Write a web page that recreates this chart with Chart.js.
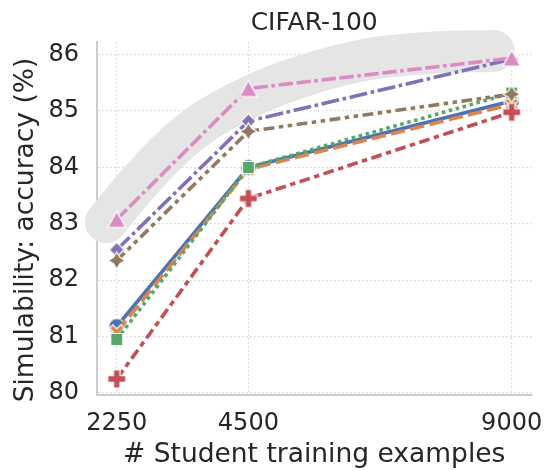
<!DOCTYPE html>
<html>
<head>
<meta charset="utf-8">
<script src="https://cdn.jsdelivr.net/npm/chart.js@4/dist/chart.umd.min.js"></script>
<style>
  body { margin: 0; background: #fff; }
  #wrap { width: 544px; height: 471px; }
</style>
</head>
<body>
<div id="wrap"><canvas id="myChart" width="544" height="471"></canvas></div>
<script>
'use strict';

// student set sizes
let sizes = [2250, 4500, 9000];
let xTicks = [2250, 4500, 9000];
let yTicks = [80, 81, 82, 83, 84, 85, 86];

let seriesNames = ['m1', 'm2', 'm3', 'm4', 'm5', 'm6', 'm7'];
let blueVals = [81.18, 84.0, 85.18];
let orangeVals = [81.08, 83.97, 85.12];
let greenVals = [80.95, 84.0, 85.32];
let redVals = [80.25, 83.45, 84.98];
let purpleVals = [82.54, 84.82, 85.92];
let brownVals = [82.35, 84.64, 85.3];
let pinkVals = [83.08, 85.4, 85.94];

// grey band drawn behind the top curves
let bandX = [2066, 2594, 3156, 3718, 4518, 5370, 6562, 7703, 8690];
let bandY = [83.03, 83.69, 84.31, 84.79, 85.25, 85.6, 85.92, 86.04, 86.065];

let xMin = 1912.5, xMax = 9337.5;
let yMin = 79.965, yMax = 86.225;

const FONT = 'DejaVu Sans';
const TXT = '#262626';
const LW = 3.6;

// build a little canvas for each marker shape
function makeMarker(shape, color, s) {
    let c = document.createElement('canvas');
    c.width = s + 4;
    c.height = s + 4;
    let g = c.getContext('2d');
    let m = (s + 4) / 2;
    let r = s / 2;
    g.translate(m, m);
    g.beginPath();
    if (shape === 'circle') {
        g.arc(0, 0, r, 0, Math.PI * 2);
    } else if (shape === 'square') {
        g.rect(-r * 0.8, -r * 0.8, r * 1.6, r * 1.6);
    } else if (shape === 'diamond') {
        g.moveTo(0, -r); g.lineTo(r, 0); g.lineTo(0, r); g.lineTo(-r, 0);
    } else if (shape === 'star') {
        let k = r * 0.38;
        g.moveTo(0, -r); g.lineTo(k, -k); g.lineTo(r, 0); g.lineTo(k, k);
        g.lineTo(0, r); g.lineTo(-k, k); g.lineTo(-r, 0); g.lineTo(-k, -k);
    } else if (shape === 'triangle') {
        let h = r * 0.9;
        g.moveTo(0, -h); g.lineTo(r, h); g.lineTo(-r, h);
    } else if (shape === 'plus') {
        let t = r * 0.36;
        g.moveTo(-t, -r); g.lineTo(t, -r); g.lineTo(t, -t); g.lineTo(r, -t);
        g.lineTo(r, t); g.lineTo(t, t); g.lineTo(t, r); g.lineTo(-t, r);
        g.lineTo(-t, t); g.lineTo(-r, t); g.lineTo(-r, -t); g.lineTo(-t, -t);
    } else if (shape === 'x') {
        g.rotate(Math.PI / 4);
        let t = r * 0.3;
        g.moveTo(-t, -r); g.lineTo(t, -r); g.lineTo(t, -t); g.lineTo(r, -t);
        g.lineTo(r, t); g.lineTo(t, t); g.lineTo(t, r); g.lineTo(-t, r);
        g.lineTo(-t, t); g.lineTo(-r, t); g.lineTo(-r, -t); g.lineTo(-t, -t);
    }
    g.closePath();
    g.fillStyle = color;
    g.fill();
    g.lineWidth = 1.2;
    g.strokeStyle = '#ffffff';
    g.stroke();
    return c;
}

let styles = [
    { data: blueVals, color: '#4c72b0', dash: [], marker: 'circle', size: 16 },
    { data: orangeVals, color: '#dd8452', dash: [4, 1.5], marker: 'x', size: 16 },
    { data: greenVals, color: '#55a868', dash: [1, 1], marker: 'square', size: 15 },
    { data: redVals, color: '#c44e52', dash: [3, 1.25, 1.5, 1.25], marker: 'plus', size: 18 },
    { data: purpleVals, color: '#8172b3', dash: [5, 1, 1, 1], marker: 'diamond', size: 15 },
    { data: brownVals, color: '#937860', dash: [3, 1.25, 1.25, 1.25, 1.25, 1.25], marker: 'star', size: 17 },
    { data: pinkVals, color: '#da8bc3', dash: [4, 1, 4, 1, 1, 1], marker: 'triangle', size: 18 }
];

let datasets = [];
for (let i = 0; i < styles.length; i++) {
    let st = styles[i];
    datasets.push({
        label: seriesNames[i],
        data: sizes.map((x, j) => ({ x: x, y: st.data[j] })),
        borderColor: st.color,
        backgroundColor: st.color,
        borderWidth: LW,
        borderDash: st.dash.map(d => d * LW),
        borderCapStyle: 'butt',
        tension: 0,
        pointStyle: makeMarker(st.marker, st.color, st.size),
        pointRadius: st.size / 2,
        order: styles.length - i,
        clip: false
    });
}

datasets.push({
    label: 'band',
    data: bandX.map((x, j) => ({ x: x, y: bandY[j] })),
    borderColor: '#e5e5e5',
    borderWidth: 42,
    borderCapStyle: 'round',
    borderJoinStyle: 'round',
    cubicInterpolationMode: 'monotone',
    pointRadius: 0,
    order: 100,
    clip: false
});

// rotated y label, sits a bit lower than the axis middle
let yLabelPlugin = {
    id: 'yLabel',
    afterDraw(chart) {
        let c = chart.ctx;
        c.save();
        c.translate(26, 230);
        c.rotate(-Math.PI / 2);
        c.font = '26.5px "' + FONT + '"';
        c.fillStyle = TXT;
        c.textAlign = 'center';
        c.textBaseline = 'middle';
        c.fillText('Simulability: accuracy (%)', 0, 0);
        c.restore();
    }
};

let gridOpts = { color: '#d4d4d4', lineWidth: 1.2, drawTicks: false };
let borderOpts = { display: true, color: '#cccccc', width: 2, dash: [1.5, 2.5] };

let ctx = document.getElementById('myChart').getContext('2d');
let chart = new Chart(ctx, {
    type: 'line',
    data: { datasets: datasets },
    plugins: [yLabelPlugin],
    options: {
        responsive: false,
        animation: false,
        devicePixelRatio: 1,
        layout: { padding: { left: 0, right: 11, top: 0, bottom: 0 } },
        plugins: {
            legend: { display: false },
            tooltip: { enabled: false },
            title: {
                display: true,
                text: 'CIFAR-100',
                color: TXT,
                fullSize: false,
                font: { family: FONT, size: 25, weight: 'normal' },
                padding: { top: 8.4, bottom: 3.6 }
            }
        },
        scales: {
            x: {
                type: 'linear',
                min: xMin,
                max: xMax,
                grid: gridOpts,
                border: borderOpts,
                afterBuildTicks: (s) => { s.ticks = xTicks.map(v => ({ value: v })); },
                afterFit: (s) => { s.height = 76; s.paddingLeft = 0; s.paddingRight = 0; },
                ticks: {
                    color: TXT,
                    padding: 14,
                    font: { family: FONT, size: 24 },
                    callback: (v) => String(v)
                },
                title: {
                    display: true,
                    text: '# Student training examples',
                    color: TXT,
                    font: { family: FONT, size: 26.5 },
                    padding: { top: 0, bottom: 0 }
                }
            },
            y: {
                type: 'linear',
                min: yMin,
                max: yMax,
                grid: gridOpts,
                border: borderOpts,
                afterBuildTicks: (s) => { s.ticks = yTicks.map(v => ({ value: v })); },
                afterFit: (s) => { s.width = 97; s.paddingTop = 0; s.paddingBottom = 0; },
                ticks: {
                    color: TXT,
                    padding: 18,
                    font: { family: FONT, size: 24 },
                    callback: (v) => String(v)
                }
            }
        }
    }
});
</script>
</body>
</html>
